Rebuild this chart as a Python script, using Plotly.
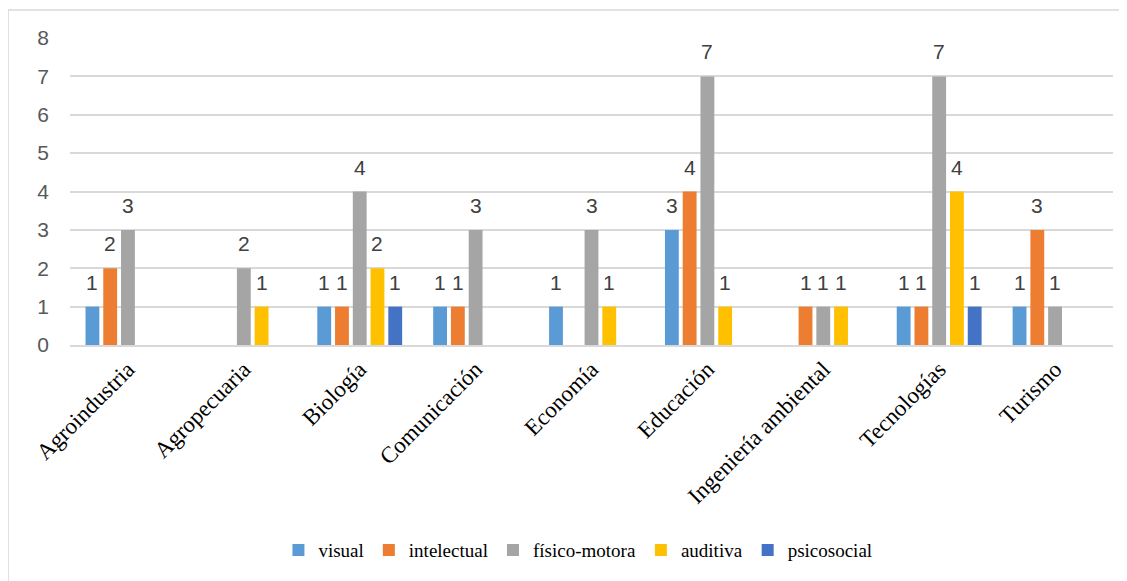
import plotly.graph_objects as go

categories = ["Agroindustria", "Agropecuaria", "Biología", "Comunicación", "Economía",
              "Educación", "Ingeniería ambiental", "Tecnologías", "Turismo"]
series_names = ["visual", "intelectual", "físico-motora", "auditiva", "psicosocial"]
visual = [1, 0, 1, 1, 1, 3, 0, 1, 1]
intelectual = [2, 0, 1, 1, 0, 4, 1, 1, 3]
fisico_motora = [3, 2, 4, 3, 3, 7, 1, 7, 1]
auditiva = [0, 1, 2, 0, 1, 1, 1, 4, 0]
psicosocial = [0, 0, 1, 0, 0, 0, 0, 1, 0]
colors = ["#5B9BD5", "#ED7D31", "#A5A5A5", "#FFC000", "#4472C4"]
y_ticks = [0, 1, 2, 3, 4, 5, 6, 7, 8]

all_series = [visual, intelectual, fisico_motora, auditiva, psicosocial]

BARGAP = 0.234
BARGROUPGAP = 0.22
n = len(all_series)
slot = (1 - BARGAP) / n

fig = go.Figure()
annotations = []
for j, (name, vals, col) in enumerate(zip(series_names, all_series, colors)):
    fig.add_trace(go.Bar(
        x=list(range(len(categories))),
        y=[v if v else None for v in vals],
        name=name,
        marker=dict(color=col, line=dict(width=0)),
        hoverinfo="y+name",
    ))
    for i, v in enumerate(vals):
        if v:
            annotations.append(dict(
                x=i + (j - (n - 1) / 2) * slot, y=v, xref="x", yref="y",
                text=str(v), showarrow=False, yanchor="bottom", yshift=11,
                font=dict(family="Liberation Sans", size=21, color="#404040"),
            ))

# chart border (left/top visible)
border = [dict(type="rect", xref="paper", yref="paper",
               x0=-0.0594, x1=1.0125, y0=-0.80, y1=1.091,
               line=dict(color="#D9D9D9", width=1.5), fillcolor="rgba(0,0,0,0)",
               layer="below")]

fig.update_layout(
    width=1119, height=573,
    margin=dict(l=62, r=14, t=30, b=236),
    paper_bgcolor="white", plot_bgcolor="white",
    barmode="group", bargap=BARGAP, bargroupgap=BARGROUPGAP,
    annotations=annotations,
    shapes=border,
    showlegend=True,
    legend=dict(orientation="h", x=0.487, xanchor="center", y=-0.668, yanchor="middle",
                font=dict(family="Liberation Serif", size=19, color="black"),
                itemwidth=30, traceorder="normal"),
    xaxis=dict(
        tickmode="array", tickvals=list(range(len(categories))), ticktext=categories,
        range=[-0.5, len(categories) - 0.5],
        tickangle=-45, tickfont=dict(family="Liberation Serif", size=23, color="black"),
        showgrid=False, showline=True, linecolor="#D9D9D9", linewidth=1.5,
        ticks="", zeroline=False,
    ),
    yaxis=dict(
        range=[0, 8], tickvals=y_ticks, showgrid=True, gridcolor="#D9D9D9", gridwidth=1.5,
        tickfont=dict(family="Liberation Sans", size=21, color="#595959"),
        zeroline=False, showline=False, ticks="", ticklabelstandoff=20,
    ),
)

fig.write_html("out.html")
